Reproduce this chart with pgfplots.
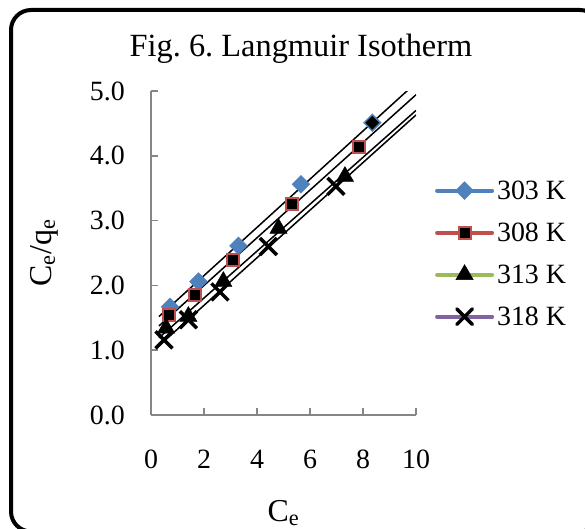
\documentclass[border=0pt]{standalone}
\usepackage{fontspec}
\setmainfont{Liberation Serif}
\usepackage{pgfplots}
\pgfplotsset{compat=1.18}
\definecolor{s303}{HTML}{4F81BD}
\definecolor{s308}{HTML}{C0504D}
\definecolor{s313}{HTML}{9BBB59}
\definecolor{s318}{HTML}{8064A2}
\definecolor{axgray}{HTML}{868686}
\frenchspacing
\begin{document}
\begin{tikzpicture}
\useasboundingbox (0bp,0bp) rectangle (585bp,529bp);
\begin{scope}
\clip (0bp,0bp) rectangle (585bp,529bp);
\draw[line width=4bp, rounded corners=20bp] (11bp,-2.5bp) rectangle (600bp,519bp);
\end{scope}
\begin{axis}[
  at={(151bp,114bp)}, anchor=south west,
  scale only axis, width=265bp, height=324bp,
  xmin=0, xmax=10, ymin=0, ymax=5,
  axis x line*=bottom, axis y line*=left,
  axis line style={-, draw=axgray, line width=1.5bp},
  xtick={0,2,4,6,8,10}, ytick={0,1,2,3,4,5},
  tick align=inside, major tick length=7bp,
  tick style={draw=axgray, line width=1.5bp},
  /pgf/number format/assume math mode=true,
  tick label style={font=\fontsize{28}{30}\selectfont, inner sep=0pt},
  yticklabel style={xshift=-26bp, /pgf/number format/fixed, /pgf/number format/fixed zerofill, /pgf/number format/precision=1},
  xticklabel style={yshift=-35bp},
  title={Fig. 6. Langmuir Isotherm},
  title style={at={(axis description cs:0.566,1.087)}, anchor=base, font=\fontsize{32.5}{35}\selectfont, inner sep=0pt},
  xlabel={C\textsubscript{e}},
  xlabel style={at={(axis description cs:0.5,-0.330)}, anchor=base, font=\fontsize{32}{34}\selectfont, inner sep=0pt},
  ylabel={C\textsubscript{e}/q\textsubscript{e}},
  ylabel style={at={(axis description cs:-0.404,0.5)}, anchor=center, font=\fontsize{32}{34}\selectfont, inner sep=0pt},
  legend image code/.code={\draw[mark repeat=2,mark phase=2,#1] plot coordinates {(0bp,0bp) (27.5bp,0bp) (55bp,0bp)};},
  legend style={at={(axis description cs:1.072,0.498)}, anchor=west, draw=none, fill=none, inner sep=0pt, outer sep=0pt, font=\fontsize{28}{30}\selectfont, row sep=22bp, column sep=3bp, nodes={inner sep=0pt}},
  legend cell align=left,
]
% 303 K
\addplot[only marks, mark=square*, mark size=6.3bp, mark options={rotate=45, fill=s303, draw=s303}, forget plot] coordinates {
(0.72,1.67) (1.79,2.06) (3.30,2.61) (5.66,3.56)};
\addplot[only marks, mark=square*, mark size=5.8bp, mark options={rotate=45, fill=black, draw=s303, line width=1.5bp}, forget plot] coordinates {
(8.35,4.51)};
% 308 K
\addplot[only marks, mark=square*, mark size=6bp, mark options={fill=black, draw=s308, line width=2bp}, forget plot] coordinates {
(0.69,1.54) (1.66,1.85) (3.11,2.39) (5.31,3.25) (7.85,4.14)};
% 313 K
\addplot[only marks, mark=triangle*, mark size=10bp, mark options={fill=black, draw=black}, forget plot] coordinates {
(0.57,1.34) (1.41,1.52) (2.73,2.06) (4.81,2.88) (7.32,3.68)};
% 318 K
\addplot[only marks, mark=x, mark size=12bp, mark options={draw=black, line width=3.5bp}, forget plot] coordinates {
(0.49,1.16) (1.41,1.47) (2.60,1.90) (4.43,2.60) (6.98,3.53)};
% trendlines
\addplot[black, line width=1.5bp, forget plot] coordinates {(0.3,1.519) (10,5.127)};
\addplot[black, line width=1.5bp, forget plot] coordinates {(0.3,1.374) (10,4.942)};
\addplot[black, line width=1.5bp, forget plot] coordinates {(0.3,1.190) (10,4.700)};
\addplot[black, line width=1.5bp, forget plot] coordinates {(0.3,1.068) (10,4.630)};
% legend
\addlegendimage{s303, line width=4bp, line cap=round, mark=square*, mark options={solid, rotate=45, mark size=6.3bp, fill=s303, draw=s303, line width=0.5bp}}
\addlegendentry{303 K}
\addlegendimage{s308, line width=4bp, line cap=round, mark=square*, mark options={solid, mark size=6bp, fill=black, draw=s308, line width=2bp}}
\addlegendentry{308 K}
\addlegendimage{s313, line width=4bp, line cap=round, mark=triangle*, mark options={solid, mark size=10bp, fill=black, draw=black, line width=0.5bp}}
\addlegendentry{313 K}
\addlegendimage{s318, line width=4bp, line cap=round, mark=x, mark options={solid, mark size=11bp, draw=black, line width=3.5bp}}
\addlegendentry{318 K}
\end{axis}
\end{tikzpicture}
\end{document}
